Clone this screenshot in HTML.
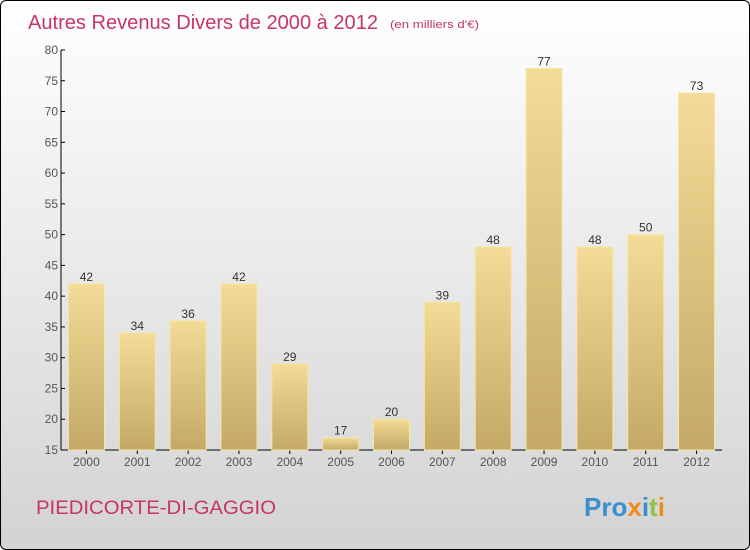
<!DOCTYPE html>
<html><head><meta charset="utf-8"><style>
body{margin:0;width:750px;height:550px;overflow:hidden;font-family:"Liberation Sans",sans-serif}
#wrap{position:absolute;left:0;top:0;width:748px;height:548px;border:1px solid #000;border-radius:6px;background:linear-gradient(#ffffff,#d3d3d3);overflow:hidden}
</style></head><body>
<div id="wrap">
<svg width="750" height="550" style="position:absolute;left:-1px;top:-1px">
<defs><linearGradient id="bg" x1="0" y1="0" x2="0" y2="1"><stop offset="0" stop-color="#f3dc97"/><stop offset="1" stop-color="#c3a965"/></linearGradient></defs>
<text x="28" y="29" font-size="20" fill="#c8336a" textLength="350" lengthAdjust="spacingAndGlyphs">Autres Revenus Divers de 2000 à 2012</text>
<text x="390" y="28" font-size="11" fill="#c8336a" textLength="89" lengthAdjust="spacingAndGlyphs">(en milliers d'€)</text>
<g id="axes"></g><g id="bars"></g>
<text x="36" y="514" font-size="19" fill="#c8336a" textLength="240" lengthAdjust="spacingAndGlyphs">PIEDICORTE-DI-GAGGIO</text>
<text x="584" y="516" font-size="26" font-weight="bold"><tspan fill="#3a8fd0">Pro</tspan><tspan fill="#f08a1c">x</tspan><tspan fill="#3a8fd0">i</tspan><tspan fill="#8cc63f">t</tspan><tspan fill="#f08a1c">i</tspan></text>
</svg></div>
<script>
const years=["2000","2001","2002","2003","2004","2005","2006","2007","2008","2009","2010","2011","2012"];
const values=[42,34,36,42,29,17,20,39,48,77,48,50,73];
const yTicks=[15,20,25,30,35,40,45,50,55,60,65,70,75,80];
const NS="http://www.w3.org/2000/svg";
const x0=61,x1=722,yb=450,yt=50,ymin=15,ymax=80;
const step=(x1-x0)/years.length;
const xc=i=>x0+(i+0.5)*step;
const ys=v=>yb-(v-ymin)/(ymax-ymin)*(yb-yt);
function mk(t,a,p){const e=document.createElementNS(NS,t);for(const k in a)e.setAttribute(k,a[k]);p.appendChild(e);return e;}
const ax=document.getElementById('axes'),bg=document.getElementById('bars');
const yl=mk('line',{x1:x0,y1:yt,x2:x0,y2:yb,stroke:'#000'},ax);


const xl=mk('line',{x1:x0,y1:yb,x2:x1,y2:yb,stroke:'#000'},ax);


yTicks.forEach(t=>{const y=ys(t);
mk('line',{x1:x0,y1:y,x2:x0+4,y2:y,stroke:'#000'},ax);
const tx=mk('text',{x:x0-3,y:y+4,'font-size':12,fill:'#555','text-anchor':'end'},ax);tx.textContent=t;

});
years.forEach((yr,i)=>{const c=xc(i),v=values[i],top=ys(v);
mk('line',{x1:c,y1:yb,x2:c,y2:yb+4,stroke:'#000'},ax);
const tl=mk('text',{x:c,y:yb+16,'font-size':12,fill:'#555','text-anchor':'middle'},ax);tl.textContent=yr;


const r=mk('rect',{x:c-18,y:top,width:36,height:yb-top,fill:'url(#bg)',stroke:'#f6e6a8','stroke-width':1},bg);


const vl=mk('text',{x:c,y:top-3,'font-size':12,fill:'#333','text-anchor':'middle'},bg);vl.textContent=v;

});
</script>
</body></html>
